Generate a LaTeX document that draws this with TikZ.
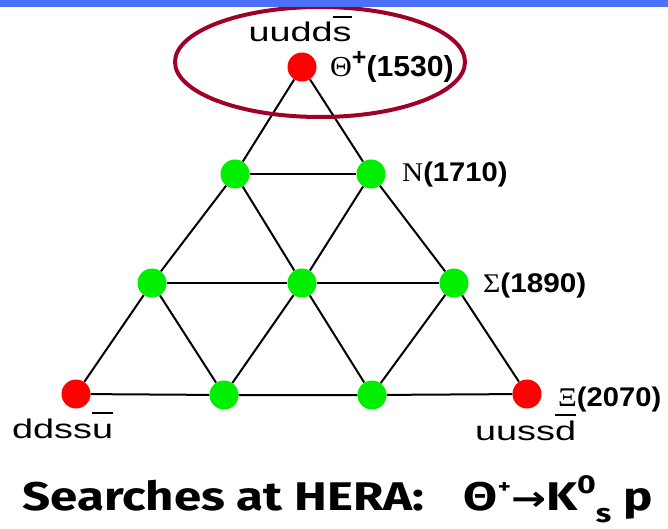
\documentclass[tikz,border=0pt]{standalone}
\usepackage{fontspec}
\setmainfont{Liberation Sans}
\newfontfamily\grk{Liberation Serif}
\newfontfamily\ttl{Fira Sans}
\newfontfamily\sym{DejaVu Sans}
\usetikzlibrary{backgrounds}

\definecolor{topbar}{RGB}{76,112,248}
\definecolor{ringred}{RGB}{160,0,40}
\definecolor{dotred}{RGB}{255,0,0}
\definecolor{dotgreen}{RGB}{0,238,0}

% antiquark: a bar above the letter
\newcommand\antiq[1]{\setbox0\hbox{#1}\rlap{\rule[0.9em]{\wd0}{1.6pt}}\box0}
\newcommand\quarks[1]{\scalebox{1.4}[1]{#1}}

\tikzset{
  state/.style={circle, inner sep=0pt, minimum size=29pt},
  exotic/.style={state, fill=dotred},
  member/.style={state, fill=dotgreen},
  link/.style={line width=2pt, black},
  quarklbl/.style={inner sep=0pt, font=\fontsize{27}{30}\selectfont},
  masslbl/.style={inner sep=0pt, anchor=base west, font=\fontsize{27}{30}\selectfont},
}

\begin{document}
\begin{tikzpicture}[x=1pt, y=-1pt]
\useasboundingbox (0,0) rectangle (668,529);

% antidecuplet states
\node[exotic] (t)  at (302,67)  {};
\node[member] (n1) at (235,174) {};
\node[member] (n2) at (371,174) {};
\node[member] (s1) at (152,283) {};
\node[member] (s2) at (302,283) {};
\node[member] (s3) at (454,283) {};
\node[exotic] (x1) at (76,394)  {};
\node[member] (x2) at (224,395) {};
\node[member] (x3) at (372,395) {};
\node[exotic] (x4) at (527,394) {};

\begin{scope}[on background layer]
  \draw[link] (t) -- (n1) -- (s1) -- (x1) -- (x2) -- (x3) -- (x4) -- (s3) -- (n2) -- (t);
  \draw[link] (n1) -- (n2);
  \draw[link] (s1) -- (s2) -- (s3);
  \draw[link] (n1) -- (s2) -- (n2);
  \draw[link] (s1) -- (x2) -- (s2) -- (x3) -- (s3);
\end{scope}

% quark content
\node[quarklbl, anchor=base] (qt) at (300,42)  {\quarks{uudd\antiq{s}}};
\node[quarklbl, anchor=base west] (qx1) at (12,438) {\quarks{ddss\antiq{u}}};
\node[quarklbl, anchor=base west] (qx4) at (475,440) {\quarks{uuss\antiq{d}}};

% masses
\node[masslbl, font=\fontsize{29}{32}\selectfont] (mt)  at (330,77)  {\scalebox{1.04}[1]{{\grk Θ}\raisebox{0.4em}{\fontsize{24}{24}\selectfont\bfseries+}\bfseries(1530)}};
\node[masslbl] (mn)  at (402,182) {\scalebox{1.08}[1]{{\grk N}\bfseries(1710)}};
\node[masslbl] (ms)  at (483,292) {\scalebox{1.1}[1]{{\grk Σ}\bfseries(1890)}};
\node[masslbl] (mx)  at (558,406) {\scalebox{1.08}[1]{{\grk Ξ}\bfseries(2070)}};

% ring around the pentaquark
\draw[ringred, line width=4pt] (320,62) ellipse [x radius=145, y radius=55];

% title line
\node[inner sep=0pt, anchor=base west, font=\ttl\bfseries\fontsize{40}{44}\selectfont] (title) at (22,510)
  {\scalebox{1.23}[1]{Searches at HERA:\hspace{32pt}Θ\raisebox{0.42em}{\fontsize{20}{20}\selectfont+}{\sym\fontsize{34}{34}\selectfont →}K\raisebox{0.42em}{\fontsize{26}{26}\selectfont 0}\raisebox{-0.3em}{\fontsize{26}{26}\selectfont s}\hspace{10pt}p}};

% top band
\fill[topbar] (0,0) rectangle (668,7);
\end{tikzpicture}
\end{document}
